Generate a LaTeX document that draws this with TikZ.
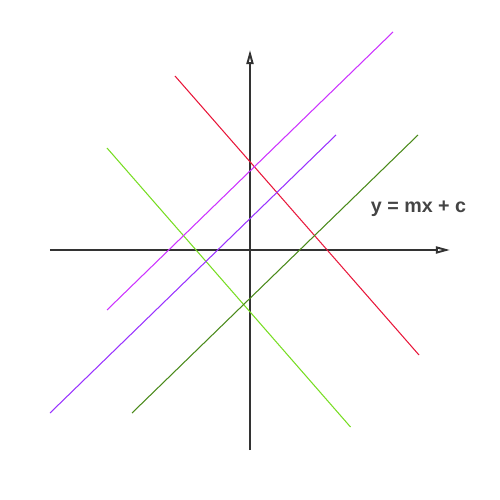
\documentclass[tikz,border=0pt]{standalone}
\usepackage{fontspec}
\setsansfont{Liberation Sans}
\usetikzlibrary{arrows.meta}
\definecolor{clrAxis}   {HTML}{333333}
\definecolor{clrText}   {HTML}{444444}
\definecolor{clrRed}    {HTML}{E8173A}
\definecolor{clrMag}    {HTML}{CC33FF}
\definecolor{clrViolet} {HTML}{9933FF}
\definecolor{clrLime}   {HTML}{77DD22}
\definecolor{clrOlive}  {HTML}{4A8A1A}
\tikzset{
  axis/.style  = {-{Triangle[open, length=8pt, width=4pt]}, line width=1.1pt, color=clrAxis},
  graph/.style = {line width=0.6pt},
  eqn/.style   = {font=\sffamily\bfseries\fontsize{11.2}{13}\selectfont, text=clrText},
}
\begin{document}
\begin{tikzpicture}

% ══════════════════════════════════════════════════════════════════════════
%  Frame — 10 x 10, origin in the middle
% ══════════════════════════════════════════════════════════════════════════

\useasboundingbox (-5,-5) rectangle (5,5);

% ══════════════════════════════════════════════════════════════════════════
%  Axes
% ══════════════════════════════════════════════════════════════════════════

\coordinate (xmin) at (-4, 0);
\coordinate (xmax) at ( 4, 0);
\coordinate (ymin) at ( 0,-4);
\coordinate (ymax) at ( 0, 4);

\draw[axis] (xmin) -- (xmax);
\draw[axis] (ymin) -- (ymax);

% ══════════════════════════════════════════════════════════════════════════
%  Straight lines — two falling, three rising
% ══════════════════════════════════════════════════════════════════════════

\draw[graph, clrRed]    (-1.50, 3.48) -- (3.38,-2.10);
\draw[graph, clrLime]   (-2.86, 2.04) -- (2.01,-3.54);

\draw[graph, clrMag]    (-2.86,-1.20) -- (2.86, 4.36);
\draw[graph, clrViolet] (-4.00,-3.26) -- (1.72, 2.30);
\draw[graph, clrOlive]  (-2.36,-3.26) -- (3.36, 2.30);

% ── Label ────────────────────────────────────────────────────────────────
\node[eqn] (lbl) at (3.37, 0.83) {y = mx + c};

\end{tikzpicture}
\end{document}
